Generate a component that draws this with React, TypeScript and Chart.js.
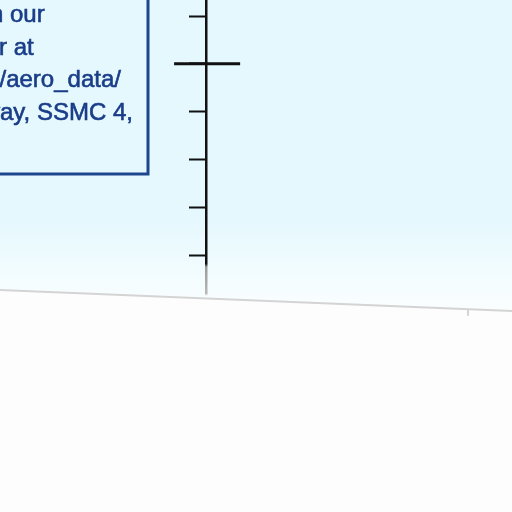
import { useEffect, useRef } from 'react'
import Chart from 'chart.js/auto'

// y axis ticks (value units), the axis sits at axisX on the hidden x scale
const tickValues = [0, 1, 2, 3, 4, 5]
const axisX = 40.2
const yMin = -1.234
const yMax = 5.335

// long crossing mark on the axis
const markX = [34, 46.9]
const markY = [4, 4]

// faint baseline (tilted), with one small tick on it
const baseX = [0, 100]
const baseY = [-0.732, -1.172]
const smallTickX = [91.4, 91.4]
const smallTickY = [-1.134, -1.27]

// note box, lines cut off by the left edge of the picture
const noteHidden = ['available on ', 'Data Cente', 'http://www.nodc.noaa.gov', 'East-West Highw']
const noteVisible = ['our', 'r at', '/aero_data/', 'ay, SSMC 4,']
const noteStartX = [10, -1, -0.5, 0]

export default function App() {
  const canvasRef = useRef<HTMLCanvasElement>(null)
  const chartRef = useRef<Chart | null>(null)

  useEffect(() => {
    document.body.style.margin = '0'
    if (!canvasRef.current) return
    const ctx = canvasRef.current.getContext('2d')
    if (!ctx) return

    if (chartRef.current) chartRef.current.destroy()

    const areaBottom = 314

    const axisColor = ctx.createLinearGradient(0, 0, 0, areaBottom)
    axisColor.addColorStop(0, '#111111')
    axisColor.addColorStop(0.84, '#111111')
    axisColor.addColorStop(0.85, '#9a9a9a')
    axisColor.addColorStop(0.935, '#b8b8b8')
    axisColor.addColorStop(0.945, 'rgba(255,255,255,0)')
    axisColor.addColorStop(1, 'rgba(255,255,255,0)')

    const skyColor = ctx.createLinearGradient(0, 0, 0, areaBottom)
    skyColor.addColorStop(0, '#e4f8fd')
    skyColor.addColorStop(0.7, '#e5f8fd')
    skyColor.addColorStop(0.92, '#f6fdff')
    skyColor.addColorStop(1, '#fbfeff')

    chartRef.current = new Chart(ctx, {
      type: 'line',
      data: {
        datasets: [
          {
            label: 'baseline',
            data: baseX.map((x, i) => ({ x, y: baseY[i] })),
            borderColor: '#d4d4d4',
            borderWidth: 2,
            backgroundColor: skyColor,
            fill: 'end',
            pointRadius: 0,
            tension: 0,
            clip: false,
          },
          {
            label: 'small tick',
            data: smallTickX.map((x, i) => ({ x, y: smallTickY[i] })),
            borderColor: '#cfcfcf',
            borderWidth: 1,
            pointRadius: 0,
            fill: false,
            clip: false,
          },
          {
            label: 'mark',
            data: markX.map((x, i) => ({ x, y: markY[i] })),
            borderColor: '#111111',
            borderWidth: 3,
            pointRadius: 0,
            fill: false,
            clip: false,
          },
        ],
      },
      options: {
        animation: false,
        responsive: false,
        maintainAspectRatio: false,
        layout: { padding: { left: 0, right: 0, top: 0, bottom: 512 - areaBottom } },
        plugins: {
          legend: { display: false },
          tooltip: { enabled: false },
          filler: { drawTime: 'beforeDraw' },
        },
        scales: {
          x: { type: 'linear', display: false, min: 0, max: 100 },
          y: {
            type: 'linear',
            min: yMin,
            max: yMax,
            position: { x: axisX },
            afterBuildTicks: (scale) => {
              scale.ticks = tickValues.map((v) => ({ value: v }))
            },
            ticks: { display: false },
            grid: {
              drawOnChartArea: false,
              drawTicks: true,
              tickLength: 16,
              tickWidth: 2,
              tickColor: '#111111',
            },
            border: { display: true, color: axisColor, width: 2.5 },
          },
        },
      },
      plugins: [
        {
          id: 'noteBox',
          afterDraw: (chart) => {
            const c = chart.ctx
            c.save()
            c.strokeStyle = '#1c4590'
            c.lineWidth = 3
            c.strokeRect(-10, -10, 158, 184)
            c.fillStyle = '#1a3d88'
            c.strokeStyle = '#1a3d88'
            c.lineWidth = 0.6
            c.font = '24px "Liberation Sans", Arial, sans-serif'
            c.textAlign = 'left'
            c.textBaseline = 'alphabetic'
            noteVisible.forEach((t, i) => {
              const pre = c.measureText(noteHidden[i]).width
              const x = noteStartX[i] - pre
              const y = 22 + i * 32.5
              c.fillText(noteHidden[i] + t, x, y)
              c.strokeText(noteHidden[i] + t, x, y)
            })
            c.restore()
          },
        },
      ],
    })

    return () => {
      if (chartRef.current) {
        chartRef.current.destroy()
        chartRef.current = null
      }
    }
  }, [])

  return (
    <div style={{ width: 512, height: 512, background: '#fdfdfd' }}>
      <canvas ref={canvasRef} width={512} height={512} style={{ width: 512, height: 512, display: 'block' }} />
    </div>
  )
}
